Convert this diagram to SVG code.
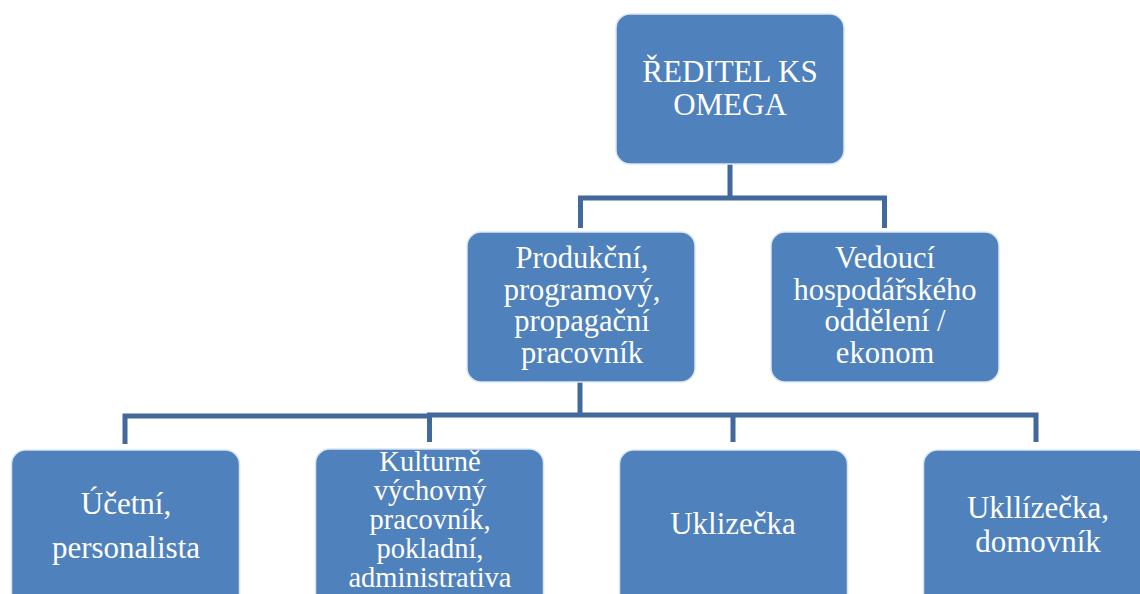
<svg xmlns="http://www.w3.org/2000/svg" width="1140" height="594" viewBox="0 0 1140 594">
<style>
.box{fill:#4F81BD;stroke:#DCE6F2;stroke-width:1.5}
.t{font-family:'Liberation Serif','Times New Roman',Tinos,'DejaVu Serif',serif;fill:#FFFFFF;text-anchor:middle}
.c{fill:none;stroke:#41699B;stroke-width:5;stroke-linejoin:miter;stroke-linecap:butt}
</style>
<rect width="1140" height="594" fill="#FFFFFF"/>
<g id="connectors">
<path class="c" d="M730,164 V198"/>
<path class="c" d="M580.5,228 V198 H884.5 V228"/>
<path class="c" d="M580,382 V415"/>
<path class="c" d="M125,444 V416 H429.5"/>
<path class="c" d="M429.5,442 V415 H1036 V442"/>
<path class="c" d="M733,415 V442"/>
</g>
<g id="n_reditel">
<rect class="box" x="616" y="14" width="228" height="150" rx="14"/>
<text class="t" font-family="Liberation Serif, serif" font-size="31"><tspan x="730" y="82">ŘEDITEL KS</tspan><tspan x="730" y="115">OMEGA</tspan></text>
</g>
<g id="n_produkcni">
<rect class="box" x="467" y="232" width="228" height="150" rx="14"/>
<text class="t" font-size="30.5"><tspan x="582" y="268">Produkční,</tspan><tspan x="582" y="299.5">programový,</tspan><tspan x="582" y="331">propagační</tspan><tspan x="582" y="362.5">pracovník</tspan></text>
</g>
<g id="n_vedouci">
<rect class="box" x="771" y="232" width="228" height="150" rx="14"/>
<text class="t" font-size="30.5"><tspan x="885" y="268">Vedoucí</tspan><tspan x="885" y="299.5">hospodářského</tspan><tspan x="885" y="331">oddělení /</tspan><tspan x="885" y="362.5">ekonom</tspan></text>
</g>
<g id="n_ucetni">
<rect class="box" x="11.5" y="450" width="228" height="160" rx="14"/>
<text class="t" font-size="31"><tspan x="126" y="514">Účetní,</tspan><tspan x="126" y="558">personalista</tspan></text>
</g>
<g id="n_kulturne">
<rect class="box" x="315.5" y="449" width="228" height="160" rx="14"/>
<text class="t" font-size="28.5"><tspan x="430" y="471">Kulturně</tspan><tspan x="430" y="500">výchovný</tspan><tspan x="430" y="529">pracovník,</tspan><tspan x="430" y="558">pokladní,</tspan><tspan x="430" y="587">administrativa</tspan></text>
</g>
<g id="n_uklizecka">
<rect class="box" x="619.5" y="450" width="228" height="160" rx="14"/>
<text class="t" font-size="31"><tspan x="733" y="534">Uklizečka</tspan></text>
</g>
<g id="n_domovnik">
<rect class="box" x="923.5" y="450" width="228" height="160" rx="14"/>
<text class="t" font-size="31"><tspan x="1038" y="518">Ukllízečka,</tspan><tspan x="1038" y="552">domovník</tspan></text>
</g>
</svg>
